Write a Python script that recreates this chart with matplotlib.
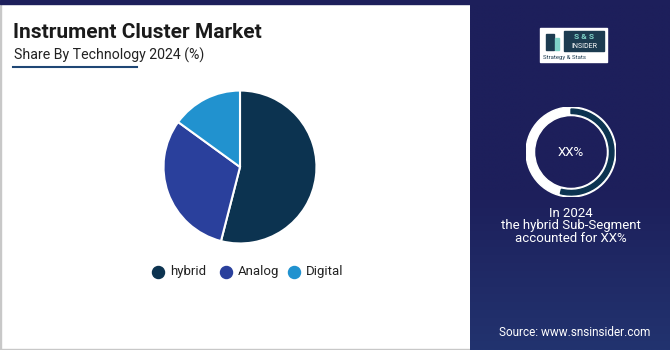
import matplotlib
matplotlib.use("Agg")
import matplotlib.pyplot as plt
import numpy as np
from matplotlib.patches import Rectangle, Wedge

plt.rcParams["font.family"] = ["Roboto", "DejaVu Sans"]

W, H = 670, 350

# data
technologies = ["hybrid", "Analog", "Digital"]
shares = [54, 31, 15]
colors = ["#0c3350", "#2a409c", "#2192cf"]
highlight_share = shares[0]

title = "Instrument Cluster Market"
subtitle = "Share By Technology 2024 (%)"
panel_lines = "In 2024\nthe hybrid Sub-Segment\naccounted for XX%"
source = "Source: www.snsinsider.com"

navy = "#1d1f5b"

fig = plt.figure(figsize=(W / 100, H / 100), dpi=100)
bg = fig.add_axes([0, 0, 1, 1])
bg.set_xlim(0, W)
bg.set_ylim(H, 0)
bg.axis("off")

# left white card with thin borders
bg.add_patch(Rectangle((0, 0), 470, H, color="white", zorder=0))
bg.add_patch(Rectangle((0, 0), 1.2, H, color="#c8c8c8", zorder=1))
bg.add_patch(Rectangle((0, H - 1.5), 470, 1.5, color="#c8c8c8", zorder=1))
bg.add_patch(Rectangle((0, 0), W, 3.5, color=navy, zorder=2))

# right panel with soft gradient towards the bottom
grad = np.linspace(0, 1, 200)[:, None]
top = np.array(matplotlib.colors.to_rgb("#1d1f5b"))
bot = np.array(matplotlib.colors.to_rgb("#22336f"))
w = np.clip((grad - 0.55) / 0.45, 0, 1)
img = top * (1 - w[..., None]) + bot * w[..., None]
img = np.repeat(img, 2, axis=1)
bg.imshow(img, extent=(470, W, H, 0), aspect="auto", zorder=1)
bg.set_xlim(0, W)
bg.set_ylim(H, 0)

# titles
bg.text(13, 32, title, fontsize=15, fontweight="bold", color="#1a1a1a",
        va="center", ha="left", zorder=3)
bg.text(14, 55, subtitle, fontsize=10.2, color="#222222",
        va="center", ha="left", zorder=3)
bg.plot([13, 137], [67, 67], color="#1f4775", lw=1.5, zorder=3)

# pie
cx, cy, r = 240, 167, 78
pax = fig.add_axes([(cx - r) / W, (H - cy - r) / H, 2 * r / W, 2 * r / H])
pax.pie(shares, colors=colors, startangle=90, counterclock=False,
        wedgeprops=dict(edgecolor="white", linewidth=1.5))
pax.set_xlim(-1.02, 1.02)
pax.set_ylim(-1.02, 1.02)
pax.set_aspect("equal")
pax.axis("off")

# legend
lx = [158, 226, 294]
for x, name, c in zip(lx, technologies, colors):
    bg.scatter(x, 272, s=75, color=c, zorder=3)
    bg.text(x + 12, 272, name, fontsize=9.5, color="#222222", va="center",
            ha="left", zorder=3)

# logo
bg.add_patch(Rectangle((540, 28), 67, 34, color="white", zorder=3))
bg.add_patch(Rectangle((564, 31), 40, 20, color="#1c3b50", zorder=4))
bg.text(584, 36.5, "S & S", fontsize=6, color="#7fd3c8", fontweight="bold",
        ha="center", va="center", zorder=5)
bg.text(584, 46, "INSIDER", fontsize=5, color="white",
        ha="center", va="center", zorder=5)
bg.text(543, 57, "Strategy & Stats", fontsize=4.3, color="#1c3b50",
        ha="left", va="center", zorder=5)
bg.add_patch(Rectangle((546, 34), 8, 16, color="#1c3b50", zorder=4))
bg.add_patch(Rectangle((555, 38), 4, 12, color="#7fd3c8", zorder=4))

# donut in the panel
dx, dy, dr = 571, 152, 45
dax = fig.add_axes([(dx - dr) / W, (H - dy - dr) / H, 2 * dr / W, 2 * dr / H])
dax.set_xlim(-1, 1)
dax.set_ylim(-1, 1)
dax.set_aspect("equal")
dax.axis("off")
dax.add_patch(Wedge((0, 0), 1.0, 0, 360, width=0.19, color="white"))
ang = 360 * highlight_share / 100
dax.add_patch(Wedge((0, 0), 0.955, 90 - ang, 90, width=0.1, color="#0c3350"))

bg.text(dx, dy, "XX%", fontsize=9.5, color="white", ha="center",
        va="center", zorder=5)
bg.text(dx, 226, panel_lines, fontsize=9.5, color="white", ha="center",
        va="center", linespacing=0.95, zorder=5)
bg.text(575, 332, source, fontsize=8.5, color="white", ha="center",
        va="center", zorder=5)

fig.savefig("out.png", dpi=100)
plt.close(fig)
